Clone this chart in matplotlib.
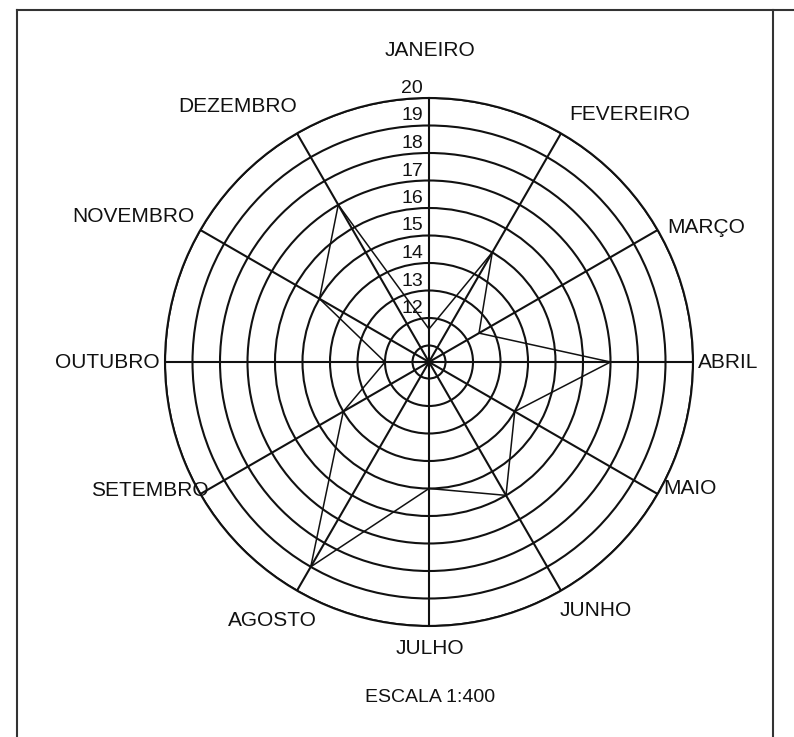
import numpy as np
import matplotlib
matplotlib.use("Agg")
import matplotlib.pyplot as plt

# ---- data ----
months = ["JANEIRO", "FEVEREIRO", "MARÇO", "ABRIL", "MAIO", "JUNHO",
          "JULHO", "AGOSTO", "SETEMBRO", "OUTUBRO", "NOVEMBRO", "DEZEMBRO"]
values = [11.6, 15, 12.5, 17, 14, 16, 15, 19, 14, 12, 15, 17]
rings = [11, 12, 13, 14, 15, 16, 17, 18, 19, 20]
ring_labels = ["12", "13", "14", "15", "16", "17", "18", "19", "20"]
scale_text = "ESCALA 1:400"

# ---- layout ----
W, H = 794, 737
DPI = 100
cx, cy, R = 429, 362, 264
r_min = 10.4
FONT = ["Liberation Sans", "DejaVu Sans"]
INK = "#111111"

# month label centres (pixels, from top-left)
label_pos = [(430, 50), (630, 115), (706, 228), (728, 362), (690, 488),
             (596, 610), (430, 649), (272, 620), (150, 490), (107, 362),
             (133, 217), (238, 107)]

fig = plt.figure(figsize=(W / DPI, H / DPI), dpi=DPI)
fig.patch.set_facecolor("white")

ax = fig.add_axes([(cx - R) / W, (H - cy - R) / H, 2 * R / W, 2 * R / H],
                  projection="polar")
ax.set_theta_zero_location("N")
ax.set_theta_direction(-1)
ax.set_ylim(r_min, 20)

angles = np.arange(len(months)) * 2 * np.pi / len(months)
ax.set_xticks(angles)
ax.set_xticklabels([])
ax.set_yticks(rings)
ax.set_yticklabels([])
ax.tick_params(length=0)
ax.grid(True, color=INK, linewidth=1.5)
ax.spines["polar"].set_color(INK)
ax.spines["polar"].set_linewidth(1.5)
ax.set_facecolor("white")

# data polygon
th = np.append(angles, angles[0])
vv = np.append(values, values[0])
ax.plot(th, vv, color=INK, linewidth=1.1, zorder=5)

# radial value labels along the vertical spoke
for lab, v in zip(ring_labels, rings[1:]):
    ax.annotate(lab, xy=(0, v), xytext=(-6, 1), textcoords="offset pixels",
                ha="right", va="bottom", fontsize=14, family=FONT, color=INK,
                annotation_clip=False)

# month labels
for name, (px, py) in zip(months, label_pos):
    fig.text(px / W, 1 - py / H, name, ha="center", va="center",
             fontsize=15, family=FONT, color=INK)

fig.text(430 / W, 1 - 697 / H, scale_text, ha="center", va="center",
         fontsize=14, family=FONT, color=INK)

# frame lines
fig.add_artist(plt.Line2D([17 / W, 17 / W], [0, 1 - 10 / H],
                          transform=fig.transFigure, color="#333333", lw=1.5))
fig.add_artist(plt.Line2D([17 / W, 1], [1 - 10 / H, 1 - 10 / H],
                          transform=fig.transFigure, color="#333333", lw=1.5))
fig.add_artist(plt.Line2D([773 / W, 773 / W], [0, 1 - 10 / H],
                          transform=fig.transFigure, color="#333333", lw=1.5))

fig.savefig("out.png", dpi=DPI, facecolor="white")
